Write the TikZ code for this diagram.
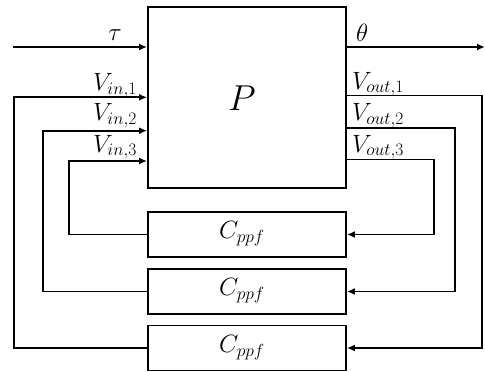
\documentclass[tikz,border=0pt]{standalone}
\usepackage{fix-cm}
\usetikzlibrary{arrows.meta}
\begin{document}
\begin{tikzpicture}[x=1pt,y=-1pt,
  wire/.style={line width=1.9pt},
  arr/.style={wire,-{Latex[length=8pt,width=7pt]}},
  blk/.style={draw,line width=1.9pt,inner sep=0pt},
  lbl/.style={inner sep=0pt,font=\fontsize{25}{29}\selectfont}]
\useasboundingbox (0,0) rectangle (485,372);
% plant
\node[blk,minimum width=198pt,minimum height=181pt] (P) at (247,97.5) {};
\node[inner sep=0pt,font=\fontsize{36}{42}\selectfont] (Plbl) at (242,98) {$P$};
% controllers
\node[blk,minimum width=198pt,minimum height=45pt] (C1) at (247,234.5) {};
\node[blk,minimum width=198pt,minimum height=45pt] (C2) at (247,291.5) {};
\node[blk,minimum width=198pt,minimum height=45pt] (C3) at (247,348) {};
\node[lbl] (C1l) at (242,234) {$C_{ppf}$};
\node[lbl] (C2l) at (242,291) {$C_{ppf}$};
\node[lbl] (C3l) at (242,348) {$C_{ppf}$};
% coordinates
\coordinate (tin) at (13,47);
\coordinate (tout) at (485,47);
\coordinate (a1) at (14,97.3);
\coordinate (a2) at (43,130.7);
\coordinate (a3) at (69,161);
\coordinate (b1) at (482,95.5);
\coordinate (b2) at (455,128.3);
\coordinate (b3) at (434,159.5);
% tau, theta
\draw[arr] (tin) -- (tin -| P.west);
\draw[arr] (tout -| P.east) -- (tout);
\node[lbl,anchor=base] (tau) at (115,40) {$\tau$};
\node[lbl,anchor=base west] (th) at (356,41) {$\theta$};
% inputs
\draw[arr] (C3.west) -- (C3.west -| a1) -- (a1) -- (a1 -| P.west);
\draw[arr] (C2.west) -- (C2.west -| a2) -- (a2) -- (a2 -| P.west);
\draw[arr] (C1.west) -- (C1.west -| a3) -- (a3) -- (a3 -| P.west);
% outputs
\draw[arr] (b1 -| P.east) -- (b1) -- (b1 |- C3.east) -- (C3.east);
\draw[arr] (b2 -| P.east) -- (b2) -- (b2 |- C2.east) -- (C2.east);
\draw[arr] (b3 -| P.east) -- (b3) -- (b3 |- C1.east) -- (C1.east);
% labels
\node[lbl,anchor=base east] (vi1) at (137,90.5) {$V_{in,1}$};
\node[lbl,anchor=base east] (vi2) at (137,120.5) {$V_{in,2}$};
\node[lbl,anchor=base east] (vi3) at (137,152) {$V_{in,3}$};
\node[lbl,anchor=base west] (vo1) at (352,89) {$V_{out,1}$};
\node[lbl,anchor=base west] (vo2) at (352,120.5) {$V_{out,2}$};
\node[lbl,anchor=base west] (vo3) at (352,152) {$V_{out,3}$};
\end{tikzpicture}
\end{document}
